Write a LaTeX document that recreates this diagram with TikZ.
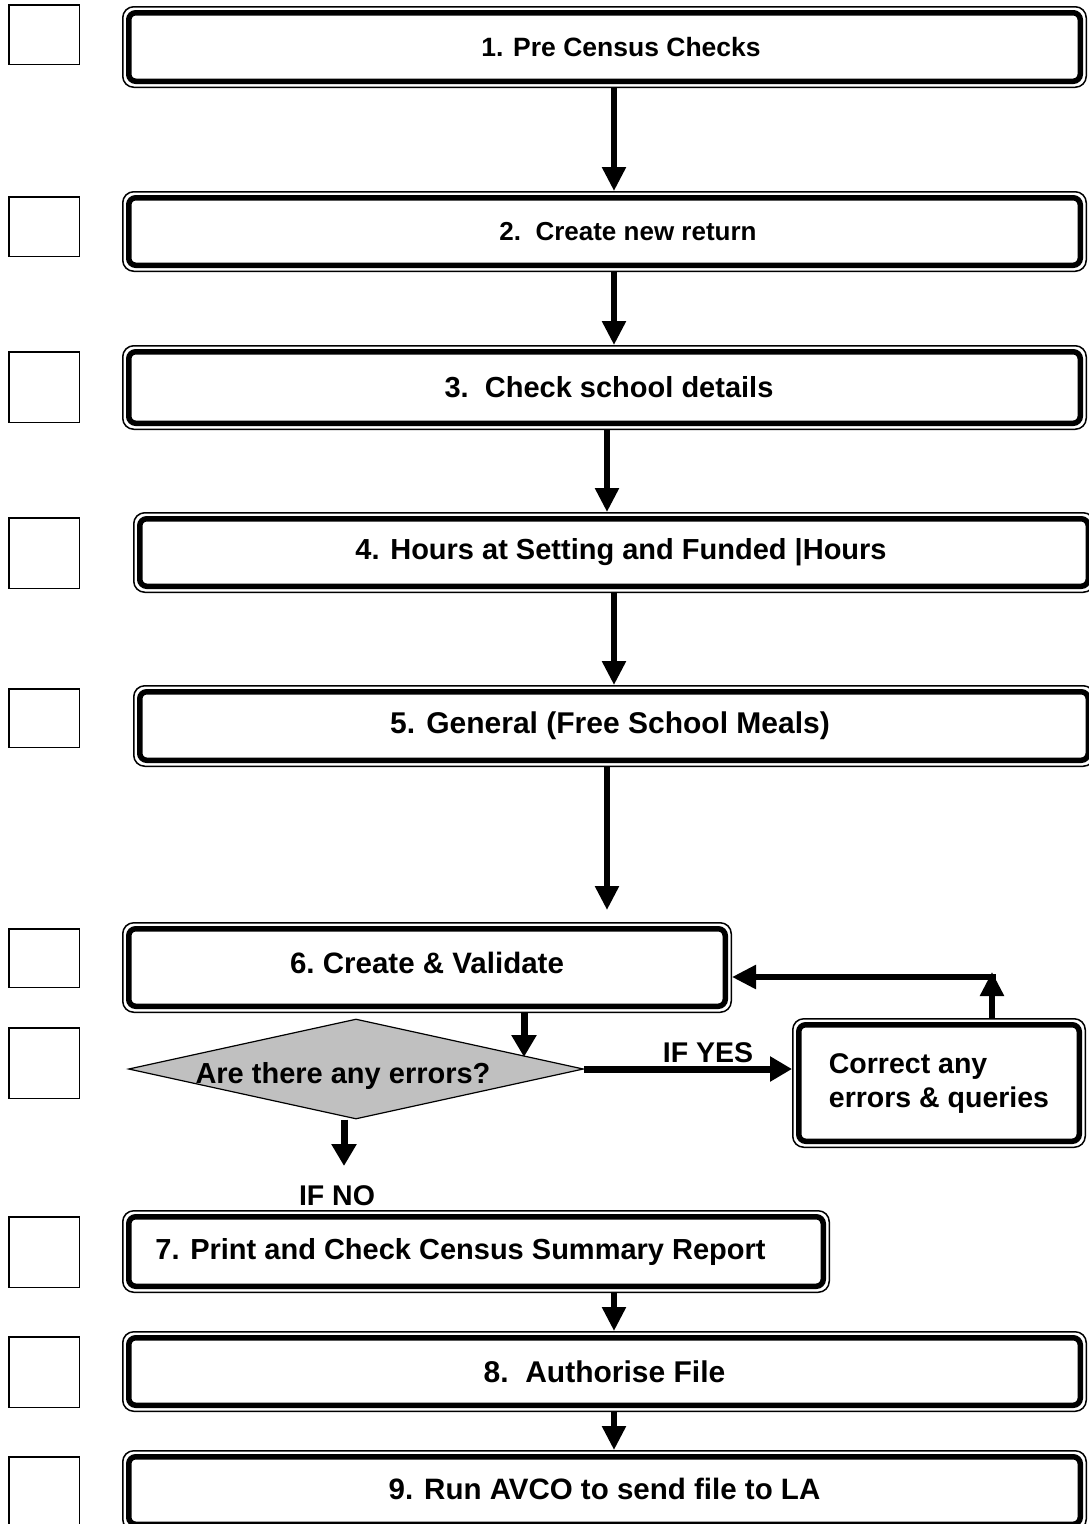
\documentclass[tikz,border=0pt]{standalone}
\usepackage{fontspec}
\setmainfont{Liberation Sans}
\usetikzlibrary{arrows.meta,shapes.geometric,calc}
\newcommand{\fs}[1]{\fontsize{#1}{34}\selectfont}
\begin{document}
\begin{tikzpicture}[x=1pt,y=-1pt,
  stepbox/.style={draw, line width=5.5pt, rounded corners=7pt, outer sep=6.75pt, inner sep=0pt,
    font=\fontsize{29.5}{34}\selectfont\bfseries},
  frame/.style={draw, line width=1.5pt, rounded corners=11pt},
  chkbox/.style={draw, line width=1.5pt, minimum width=70.5pt, inner sep=0pt},
  dia/.style={diamond, draw, line width=1.2pt, fill={rgb,255:red,192;green,192;blue,192}, aspect=4.55,
    minimum width=455pt, minimum height=100pt, inner sep=0pt, font=\fontsize{29}{34}\selectfont\bfseries},
  lbl/.style={font=\fontsize{28.5}{34}\selectfont\bfseries, inner sep=0pt},
  arr/.style={line width=5.5pt, -{Triangle[width=23pt,length=24pt]}},
  arr2/.style={line width=7pt, -{Triangle[width=24pt,length=22pt]}}]
\useasboundingbox (0,0) rectangle (1089,1524);

% check boxes
\node[chkbox, minimum height=59.5pt] (s1) at (44,34.5) {};
\node[chkbox, minimum height=59.5pt] (s2) at (44,226.5) {};
\node[chkbox, minimum height=70.5pt] (s3) at (44,387) {};
\node[chkbox, minimum height=70.5pt] (s4) at (44,553) {};
\node[chkbox, minimum height=58.5pt] (s5) at (44,718) {};
\node[chkbox, minimum height=58.5pt] (s6) at (44,958) {};
\node[chkbox, minimum height=70.5pt] (s7) at (44,1063) {};
\node[chkbox, minimum height=70.5pt] (s8) at (44,1252) {};
\node[chkbox, minimum height=70.5pt] (s9) at (44,1372) {};
\node[chkbox, minimum height=72.5pt] (s10) at (44,1493) {};

% step boxes
\node[stepbox, minimum width=951.5pt, minimum height=68.5pt] (b1) at (604.5,47) {\fs{26.5}\hspace*{33pt}1. Pre Census Checks};
\node[stepbox, minimum width=951.5pt, minimum height=67.5pt] (b2) at (604.5,231.5) {\fs{26}\hspace*{47pt}2.\ \ Create new return};
\node[stepbox, minimum width=951.5pt, minimum height=71.5pt] (b3) at (604.5,387.5) {\fs{29}\hspace*{9pt}3.\ \ Check school details};
\node[stepbox, minimum width=948.5pt, minimum height=67.5pt] (b4) at (614,552.5) {\fs{29}\hspace*{14pt}4. Hours at Setting and Funded |Hours};
\node[stepbox, minimum width=948.5pt, minimum height=68.5pt] (b5) at (614,726) {\fs{30}5. General (Free School Meals)\hspace*{8pt}};
\node[stepbox, minimum width=596.5pt, minimum height=77.5pt] (b6) at (427,967.5) {\fs{29.5}\raisebox{5pt}[\height][\depth]{6.\ Create \& Validate}};
\node[stepbox, minimum width=694.5pt, minimum height=69.5pt] (b7) at (476,1251.5) {\fs{29}7. Print and Check Census Summary Report\hspace*{31pt}};
\node[stepbox, minimum width=951.5pt, minimum height=67.5pt] (b8) at (604.5,1371.5) {\fs{30}8.\ \ Authorise File};
\node[stepbox, minimum width=951.5pt, minimum height=67.5pt] (b9) at (604.5,1490.5) {\fs{29.5}\raisebox{2pt}[\height][\depth]{9. Run AVCO to send file to LA}};
\node[stepbox, minimum width=280.5pt, minimum height=116.5pt, align=left,
      font=\fontsize{28.5}{34}\selectfont\bfseries] (cor) at (939,1083) {Correct any\\errors \& queries};

\foreach \n in {b1,b2,b3,b4,b5,b6,b7,b8,b9,cor}
  \draw[frame] ([xshift=0.75pt,yshift=0.75pt]\n.south west) rectangle ([xshift=-0.75pt,yshift=-0.75pt]\n.north east);

% decision
\node[dia] (dia) at (356,1069) {\raisebox{-7pt}[\height][\depth]{Are there any errors?}\hspace*{26pt}};

% labels
\node[lbl] (yes) at (708,1053) {IF YES};
\node[lbl] (no) at (337,1196) {IF NO};

% connector coordinates
\coordinate (a5) at (607,910);
\coordinate (t6) at (524,1057);
\coordinate (tno) at (344,1166);
\coordinate (up) at (992,972);
\coordinate (lp) at (996,977);

% connectors
\draw[arr] (b1.south -| 614,0) -- (b2.north -| 614,0);
\draw[arr] (b2.south -| 614,0) -- (b3.north -| 614,0);
\draw[arr] (b3.south -| 607,0) -- (b4.north -| 607,0);
\draw[arr] (b4.south -| 614,0) -- (b5.north -| 614,0);
\draw[arr] (b5.south -| a5) -- (a5);
\draw[arr2] (b6.south -| t6) -- (t6);
\draw[arr2] (dia.east) -- (dia.east -| cor.west);
\draw[arr2] (dia.south -| tno) -- (tno);
\draw[arr] (cor.north -| up) -- (up);
\draw[arr] (lp) -- (lp -| b6.east);
\draw[arr] (b7.south -| 614,0) -- (b8.north -| 614,0);
\draw[arr] (b8.south -| 614,0) -- (b9.north -| 614,0);
\end{tikzpicture}
\end{document}
